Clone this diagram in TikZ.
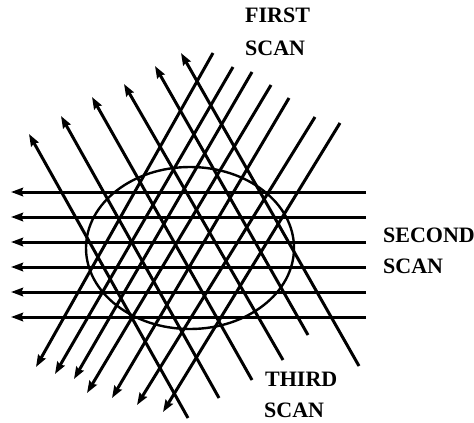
\documentclass[tikz,border=0pt]{standalone}
\usepackage{fontspec}
\setmainfont{Liberation Serif}
\usetikzlibrary{arrows.meta}
\tikzset{
  scanline/.style={line width=3pt, -{Stealth[length=12pt,width=8.5pt,inset=1.5pt]}},
  scanlabel/.style={anchor=base west, inner sep=0pt, font=\fontsize{22}{26}\selectfont\bfseries},
  region/.style={line width=2.4pt}
}
\begin{document}
\begin{tikzpicture}[x=1pt,y=-1pt]
\useasboundingbox (0,0) rectangle (474,423);
% region
\draw[region] (190,248) ellipse [x radius=104, y radius=81];
% first scan
\foreach \sx/\sy/\ex/\ey in {213/53/36/367, 233/67/55/374, 252/72/74/379, 271/85/87/393, 289/98/112/398, 315/117/137/405, 340/123/163/412}
  \draw[scanline] (\sx,\sy) -- (\ex,\ey);
% second scan
\foreach \yy in {192,217,242,267,292,317}
  \draw[scanline] (366,\yy) -- (11,\yy);
% third scan
\foreach \sx/\sy/\ex/\ey in {188/418/29/134, 219/398/61/116, 252/380/92/97, 283/360/124/84, 308/335/155/66, 359/366/181/53}
  \draw[scanline] (\sx,\sy) -- (\ex,\ey);
% labels
\node[scanlabel] (f1) at (245,23) {FIRST};
\node[scanlabel] (f2) at (245,55) {SCAN};
\node[scanlabel] (s1) at (383,242) {SECOND};
\node[scanlabel] (s2) at (383,273) {SCAN};
\node[scanlabel] (t1) at (265,386) {THIRD};
\node[scanlabel] (t2) at (264,417) {SCAN};
\end{tikzpicture}
\end{document}
